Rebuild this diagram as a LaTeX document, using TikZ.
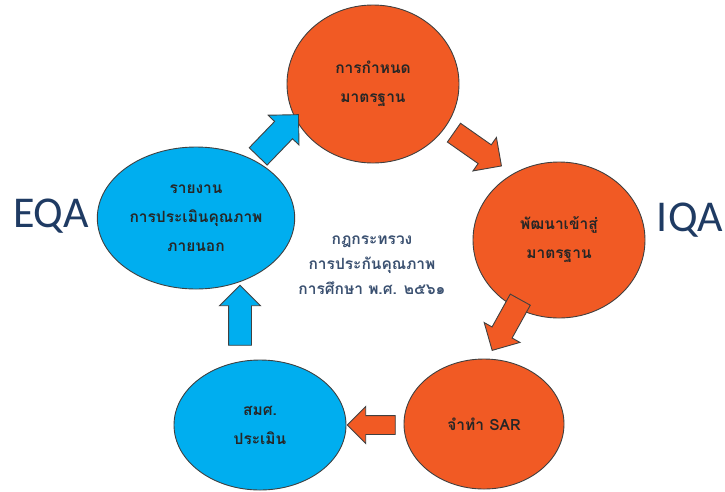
\documentclass[tikz,border=0pt]{standalone}
\usepackage{fontspec}
\newfontfamily\thaifont[Script=Thai]{Loma}
\newfontfamily\qafont{Carlito}
\usepackage{tikz}
\usetikzlibrary{shapes.geometric, shapes.arrows}
\definecolor{stageorange}{HTML}{F15A24}
\definecolor{stageblue}{HTML}{00AEEF}
\definecolor{qablue}{HTML}{1F3B63}
\definecolor{lawblue}{HTML}{3A5070}

\begin{document}
\begin{tikzpicture}[
        x=1pt, y=-1pt,
        stage/.style={ellipse, draw=black!75, line width=0.9pt, align=center, text=black!85,
            font=\thaifont\bfseries\fontsize{15.5}{29}\selectfont},
        iqa/.style={stage, fill=stageorange},
        eqa/.style={stage, fill=stageblue},
        blockarrow/.style={single arrow, draw=black!75, line width=0.9pt, inner xsep=0pt,
            inner ysep=11pt, text height=0pt, text depth=0pt, single arrow head extend=9pt,
            minimum height=58pt}
    ]
        \useasboundingbox (0,0) rectangle (725,491);

        \node[iqa, minimum width=172pt, minimum height=158pt] (standard) at (373,84)  {การกำหนด\\มาตรฐาน};
        \node[iqa, minimum width=172pt, minimum height=156pt] (develop)  at (559,240) {พัฒนาเข้าสู่\\มาตรฐาน};
        \node[iqa, minimum width=160pt, minimum height=130pt] (sar)      at (484,424) {จำทำ SAR};
        \node[eqa, minimum width=172pt, minimum height=130pt] (onesqa)   at (260,425) {สมศ.\\ประเมิน};
        \node[eqa, minimum width=178pt, minimum height=142pt] (report)   at (196,218) {รายงาน\\การประเมินคุณภาพ\\ภายนอก};

        % block arrows round the cycle
        \node[blockarrow, fill=stageorange, rotate=-35]  (a1) at (473,146) {};
        \node[blockarrow, fill=stageorange, rotate=-119] (a2) at (509,320) {};
        \node[blockarrow, fill=stageorange, rotate=180, minimum height=48pt, inner ysep=9pt] (a3) at (376,425) {};
        \node[blockarrow, fill=stageblue, rotate=90, minimum height=60pt] (a4) at (240,321) {};
        \node[blockarrow, fill=stageblue, rotate=46, inner ysep=12pt]    (a5) at (274,140) {};

        \node[align=center, text=lawblue, font=\thaifont\bfseries\fontsize{15.5}{25}\selectfont] (law) at (372,265)
            {กฎกระทรวง\\การประกันคุณภาพ\\การศึกษา พ.ศ. ๒๕๖๑};

        \node[text=qablue, font=\qafont\fontsize{44}{44}\selectfont] (eqalabel) at (51,216) {EQA};
        \node[text=qablue, font=\qafont\fontsize{44}{44}\selectfont] (iqalabel) at (690,220) {IQA};
    \end{tikzpicture}
\end{document}
